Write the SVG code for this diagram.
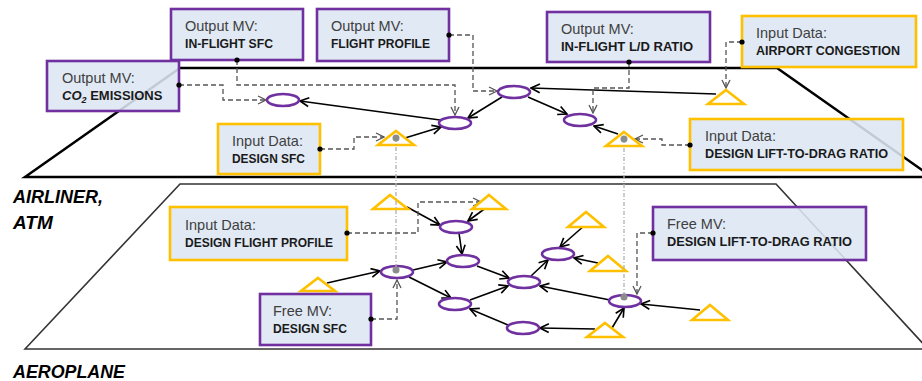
<svg xmlns="http://www.w3.org/2000/svg" width="922" height="381" viewBox="0 0 922 381">
<style>
.plane-top{fill:none;stroke:#000;stroke-width:2.5;stroke-linejoin:miter}
.plane-bot{fill:none;stroke:#333;stroke-width:1.6}
.lvl{font-family:"Liberation Sans",Arial,sans-serif;font-weight:bold;font-style:italic;font-size:19px;fill:#000}
.box{fill:#dce6f2;fill-opacity:0.88;stroke-width:2.6}
.out{stroke:#7030a0}
.in{stroke:#ffc000}
.t1{font-family:"Liberation Sans",Arial,sans-serif;font-size:14.5px;fill:#404040}
.t2{font-family:"Liberation Sans",Arial,sans-serif;font-size:13px;font-weight:bold;fill:#1a1a1a}
.ell{fill:#fff;stroke:#7030a0;stroke-width:2.6}
.tri{fill:#fff;stroke:#ffc000;stroke-width:2.6;stroke-linejoin:miter}
.sol{fill:none;stroke:#000;stroke-width:1.6;marker-end:url(#ah)}
.dsh{fill:none;stroke:#555;stroke-width:1.3;stroke-dasharray:5,3;marker-end:url(#ahg)}
.vln{fill:none;stroke:#b0b0b0;stroke-width:1.3;stroke-dasharray:4,2,1,2}
.gdot{fill:#8c8c8c}
.bdot{fill:#000}
</style>
<defs>
<marker id="ah" viewBox="0 0 10 10" refX="9" refY="5" markerWidth="11" markerHeight="11" markerUnits="userSpaceOnUse" orient="auto">
<path d="M1,1 L9,5 L1,9" fill="none" stroke="#000" stroke-width="1.5"/>
</marker>
<marker id="ahg" viewBox="0 0 10 10" refX="9" refY="5" markerWidth="10" markerHeight="10" markerUnits="userSpaceOnUse" orient="auto">
<path d="M1,1 L9,5 L1,9" fill="none" stroke="#555" stroke-width="1.3"/>
</marker>
</defs>

<g id="planes">
<polygon class="plane-top" points="25,177 180,68 777,68 932,177"/>
<polygon class="plane-bot" points="25,349 180,184 776,184 928,349"/>
<text class="lvl" x="13" y="203" textLength="90" lengthAdjust="spacingAndGlyphs">AIRLINER,</text>
<text class="lvl" x="13" y="229">ATM</text>
<text class="lvl" x="13" y="378" textLength="112" lengthAdjust="spacingAndGlyphs">AEROPLANE</text>
</g>

<g id="connectors">
<line class="sol" x1="440" y1="120" x2="300" y2="101"/>
<line class="sol" x1="405" y1="138" x2="441" y2="127"/>
<line class="sol" x1="502" y1="97" x2="468" y2="118"/>
<line class="sol" x1="528" y1="97" x2="567" y2="114"/>
<line class="sol" x1="618" y1="134" x2="594" y2="126"/>
<line class="sol" x1="716" y1="94" x2="531" y2="88"/>
<path class="dsh" d="M237,60 V85 H455 V115"/>
<path class="dsh" d="M179,85 H223 V100 H266"/>
<path class="dsh" d="M449,35 H473 V91 H497"/>
<path class="dsh" d="M629,62 V88 H593 V113"/>
<path class="dsh" d="M742,42 H726 V88"/>
<path class="dsh" d="M320,149 H354 V137 H384"/>
<path class="dsh" d="M690,145 H662 V139 H635"/>
<line class="sol" x1="407" y1="207" x2="440" y2="225"/>
<line class="sol" x1="487" y1="207" x2="468" y2="221"/>
<line class="sol" x1="459" y1="233" x2="462" y2="254"/>
<line class="sol" x1="327" y1="283" x2="380" y2="271"/>
<line class="sol" x1="413" y1="270" x2="447" y2="262"/>
<line class="sol" x1="409" y1="277" x2="451" y2="298"/>
<line class="sol" x1="477" y1="266" x2="509" y2="278"/>
<line class="sol" x1="470" y1="300" x2="508" y2="286"/>
<line class="sol" x1="531" y1="276" x2="548" y2="260"/>
<line class="sol" x1="585" y1="225" x2="560" y2="247"/>
<line class="sol" x1="598" y1="263" x2="574" y2="258"/>
<line class="sol" x1="610" y1="300" x2="540" y2="286"/>
<line class="sol" x1="595" y1="329" x2="540" y2="328"/>
<line class="sol" x1="508" y1="325" x2="470" y2="309"/>
<line class="sol" x1="612" y1="328" x2="624" y2="308"/>
<line class="sol" x1="700" y1="310" x2="641" y2="304"/>
<path class="dsh" d="M347,233 H418 V202 H481"/>
<path class="dsh" d="M371,319 H397 V280"/>
<path class="dsh" d="M653,233 H637 V294"/>
</g>

<g id="n-e1"><ellipse class="ell" cx="283" cy="100" rx="16" ry="6"/></g>
<g id="n-em"><ellipse class="ell" cx="455" cy="123" rx="16" ry="6"/></g>
<g id="n-e2"><ellipse class="ell" cx="514" cy="92" rx="16" ry="6"/></g>
<g id="n-e3"><ellipse class="ell" cx="580" cy="120" rx="16" ry="6"/></g>
<g id="n-t1"><polygon class="tri" points="396,131 414,145 378,145"/></g>
<g id="n-t2"><polygon class="tri" points="726,90 744,104 708,104"/></g>
<g id="n-t3"><polygon class="tri" points="624,132 642,146 606,146"/></g>

<g id="n-be1"><ellipse class="ell" cx="456" cy="227" rx="16" ry="6"/></g>
<g id="n-be2"><ellipse class="ell" cx="463" cy="261" rx="16" ry="6"/></g>
<g id="n-be3"><ellipse class="ell" cx="397" cy="272" rx="16" ry="6"/></g>
<g id="n-be4"><ellipse class="ell" cx="455" cy="304" rx="16" ry="6"/></g>
<g id="n-be5"><ellipse class="ell" cx="524" cy="282" rx="16" ry="6"/></g>
<g id="n-be6"><ellipse class="ell" cx="558" cy="254" rx="16" ry="6"/></g>
<g id="n-be7"><ellipse class="ell" cx="523" cy="328" rx="16" ry="6"/></g>
<g id="n-be8"><ellipse class="ell" cx="625" cy="301" rx="16" ry="6"/></g>
<g id="n-bt1"><polygon class="tri" points="390,195 408,209 373,209"/></g>
<g id="n-bt2"><polygon class="tri" points="489,195 506,209 472,209"/></g>
<g id="n-bt3"><polygon class="tri" points="318,278 335,291 301,291"/></g>
<g id="n-bt4"><polygon class="tri" points="586,212 604,227 568,227"/></g>
<g id="n-bt5"><polygon class="tri" points="608,256 626,271 590,271"/></g>
<g id="n-bt6"><polygon class="tri" points="605,323 623,337 587,337"/></g>
<g id="n-bt7"><polygon class="tri" points="710,305 728,320 692,320"/></g>

<g id="links">
<line class="vln" x1="396" y1="138" x2="396" y2="270"/>
<line class="vln" x1="624" y1="139" x2="624" y2="297"/>
<circle class="gdot" cx="396" cy="138" r="3.5"/>
<circle class="gdot" cx="624" cy="139" r="3.5"/>
<circle class="gdot" cx="396" cy="270" r="3.5"/>
<circle class="gdot" cx="624" cy="297" r="3.5"/>
</g>

<g id="box-inflight-sfc">
<rect class="box out" x="171" y="9" width="132" height="51"/>
<text class="t1" x="185" y="31">Output MV:</text>
<text class="t2" x="185" y="48" textLength="88" lengthAdjust="spacingAndGlyphs">IN-FLIGHT SFC</text>
<circle class="bdot" cx="237" cy="60" r="2.6"/>
</g>
<g id="box-co2">
<rect class="box out" x="47" y="61" width="132" height="50"/>
<text class="t1" x="62" y="83">Output MV:</text>
<text class="t2" x="62" y="100"><tspan font-style="italic">CO</tspan><tspan font-style="italic" font-size="9" dy="3">2</tspan><tspan dy="-3"> EMISSIONS</tspan></text>
<circle class="bdot" cx="179" cy="85" r="2.6"/>
</g>
<g id="box-design-sfc">
<rect class="box in" x="218" y="124" width="102" height="50"/>
<text class="t1" x="232" y="146">Input Data:</text>
<text class="t2" x="232" y="163" textLength="73" lengthAdjust="spacingAndGlyphs">DESIGN SFC</text>
<circle class="bdot" cx="320" cy="149" r="2.6"/>
</g>
<g id="box-flight-profile">
<rect class="box out" x="317" y="9" width="132" height="52"/>
<text class="t1" x="331" y="31">Output MV:</text>
<text class="t2" x="331" y="48" textLength="99" lengthAdjust="spacingAndGlyphs">FLIGHT PROFILE</text>
<circle class="bdot" cx="449" cy="35" r="2.6"/>
</g>
<g id="box-inflight-ld">
<rect class="box out" x="547" y="12" width="163" height="50"/>
<text class="t1" x="561" y="34">Output MV:</text>
<text class="t2" x="561" y="51" textLength="132" lengthAdjust="spacingAndGlyphs">IN-FLIGHT L/D RATIO</text>
<circle class="bdot" cx="629" cy="62" r="2.6"/>
</g>
<g id="box-airport">
<rect class="box in" x="742" y="16" width="174" height="51"/>
<text class="t1" x="756" y="38">Input Data:</text>
<text class="t2" x="756" y="55" textLength="144" lengthAdjust="spacingAndGlyphs">AIRPORT CONGESTION</text>
<circle class="bdot" cx="742" cy="42" r="2.6"/>
</g>
<g id="box-design-ld">
<rect class="box in" x="690" y="119" width="213" height="51"/>
<text class="t1" x="705" y="141">Input Data:</text>
<text class="t2" x="705" y="158" textLength="183" lengthAdjust="spacingAndGlyphs">DESIGN LIFT-TO-DRAG RATIO</text>
<circle class="bdot" cx="690" cy="145" r="2.6"/>
</g>
<g id="box-design-fp">
<rect class="box in" x="170" y="207" width="177" height="53"/>
<text class="t1" x="185" y="230">Input Data:</text>
<text class="t2" x="185" y="247" textLength="148" lengthAdjust="spacingAndGlyphs">DESIGN FLIGHT PROFILE</text>
<circle class="bdot" cx="347" cy="233" r="2.6"/>
</g>
<g id="box-free-sfc">
<rect class="box out" x="260" y="294" width="111" height="51"/>
<text class="t1" x="273" y="316">Free MV:</text>
<text class="t2" x="273" y="333" textLength="74" lengthAdjust="spacingAndGlyphs">DESIGN SFC</text>
<circle class="bdot" cx="371" cy="319" r="2.6"/>
</g>
<g id="box-free-ld">
<rect class="box out" x="653" y="207" width="213" height="53"/>
<text class="t1" x="667" y="229">Free MV:</text>
<text class="t2" x="667" y="246" textLength="185" lengthAdjust="spacingAndGlyphs">DESIGN LIFT-TO-DRAG RATIO</text>
<circle class="bdot" cx="653" cy="233" r="2.6"/>
</g>
</svg>
